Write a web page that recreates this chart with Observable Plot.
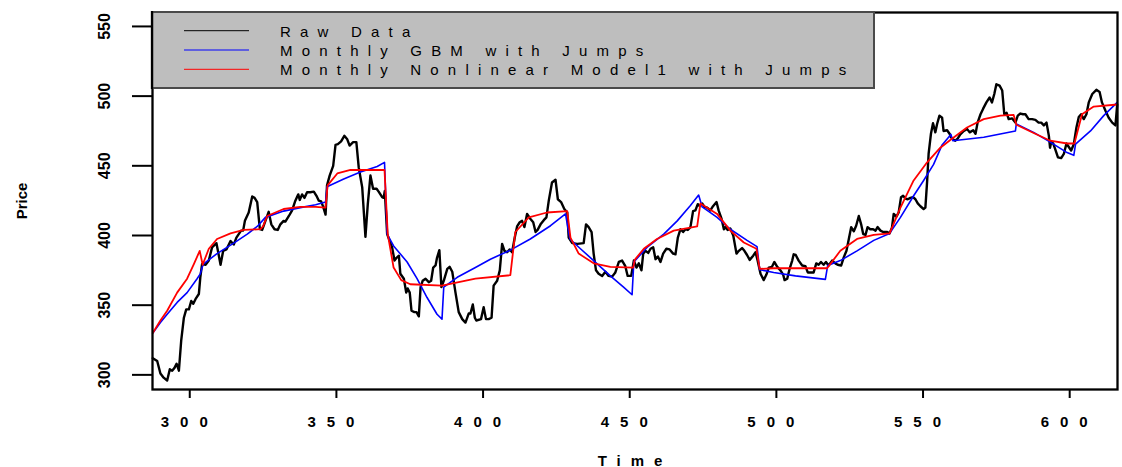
<!DOCTYPE html>
<html>
<head>
<meta charset="utf-8">
<script src="https://cdn.jsdelivr.net/npm/d3@7"></script>
<script src="https://cdn.jsdelivr.net/npm/@observablehq/plot@0.6"></script>
<style>
  html, body { margin: 0; padding: 0; background: #fff; }
  #chart { position: relative; width: 1122px; height: 467px; }
  #chart svg { display: block; }
  .legend text { letter-spacing: 9.2px; }
</style>
</head>
<body>
<div id="chart"></div>
<script>
// ---- data ----
const xTicks = [300, 350, 400, 450, 500, 550, 600];
const yTicks = [300, 350, 400, 450, 500, 550];
const legendLabels = ["Raw Data", "Monthly GBM with Jumps", "Monthly Nonlinear Model1 with Jumps"];
const axisTitles = {x: "Time", y: "Price"};

// [time, price]
const rawSeries = [
[287.4,312],[288.9,310],[290.0,301],[291.1,298],[292.3,296],[293.2,304],[294.0,303],[294.8,305],[295.5,308],[296.3,303],
[297.1,325],[298.0,341],[298.8,347],[299.7,347],[300.5,353],[301.2,351],[302.0,354.5],[303.1,358],[303.6,370],[304.2,379.5],
[305.4,379],[306.5,382],[307.6,391.5],[309.1,394.5],[309.7,388],[310.5,379],[311.4,389],[312.5,390],[313.9,396],[315.0,393.5],
[315.9,398.5],[316.7,401],[317.5,403.5],[318.2,403.5],[318.8,410.5],[320.1,416.5],[321.3,428],[322.1,427],[323.0,424],[323.9,404.5],
[324.7,404],[325.8,410.5],[326.9,417],[327.8,408],[328.9,404.5],[330.0,404],[330.9,408],[332.0,410.5],[332.6,410],[333.8,414],
[334.9,418],[336.0,425],[337.0,429.5],[337.5,425.5],[338.3,429.5],[339.1,427],[340.0,431],[341.1,431],[342.3,431.5],[343.2,428.5],
[344.0,425],[344.8,424.5],[345.5,420.5],[346.3,415],[346.8,436],[347.7,443],[348.9,450],[349.7,465],[350.5,465.5],[351.6,467.5],
[352.7,471.5],[353.7,469],[354.5,464.5],[355.7,467],[356.8,467],[357.6,449],[358.8,434.5],[359.9,399],[360.7,422.5],[361.6,443],
[362.5,433.5],[363.7,433.5],[364.4,431.5],[365.6,427.5],[366.1,427],[366.5,432],[367.3,401],[369.0,391.5],[369.8,382],[370.5,384],
[371.3,385.5],[371.8,372.5],[373.0,369],[373.8,359],[374.3,362],[375.0,359],[375.6,346],[376.6,345],[377.3,345],[378.1,342],
[378.7,363],[379.4,367.5],[380.4,369],[381.5,366.5],[382.3,367.5],[383.0,377],[383.8,378.5],[384.3,384],[385.1,389.5],[385.8,363],
[386.6,367.5],[387.8,376],[388.6,377.5],[389.5,374],[390.6,359],[391.7,345],[392.9,340],[394.0,337.5],[395.1,344],[395.7,344],
[396.5,350.5],[397.2,341],[397.7,339],[399.3,340],[400.2,348.5],[401.0,340],[401.9,340],[402.9,341],[403.6,364],[404.8,367.5],
[405.7,375],[406.5,394],[407.3,389],[408.2,388],[409.1,390],[409.9,388],[410.8,398.5],[411.6,406.5],[412.5,409.5],[413.3,410.5],
[414.1,406],[415.0,415.5],[416.1,412],[417.1,409.5],[417.9,402.5],[418.6,404],[419.6,408],[420.7,411],[421.6,413],[422.4,425],
[423.5,438],[424.7,440],[425.5,426],[426.6,424],[427.7,419],[428.7,416.5],[429.2,398.5],[430.4,394.5],[432.1,394],[434.3,394.5],
[435.1,408],[436.0,406],[437.0,402.5],[437.7,387],[438.5,375],[439.4,372.5],[440.6,371],[441.7,374],[442.8,371],[444.0,370.5],
[445.1,373.5],[446.3,381],[447.4,382],[448.5,378],[449.3,371],[450.5,371],[451.4,382],[452.3,377],[453.1,380],[454.0,375],
[454.6,387],[455.4,389],[456.3,387.5],[457.1,390.5],[458.0,391.5],[458.8,383],[459.6,385],[460.5,381],[461.4,387],[462.5,390.5],
[463.6,390],[464.8,387],[465.6,386.5],[466.4,398.5],[467.3,404.5],[468.2,402.5],[469.0,404.5],[469.8,404],[470.7,406],[471.6,417.5],
[472.4,418],[473.2,422.5],[473.9,421],[474.7,423],[475.5,420.5],[476.4,420],[477.5,418],[478.4,421],[479.6,424],[480.3,418],
[481.3,412],[482.1,404.5],[482.6,406],[483.4,404],[484.3,405],[485.3,400],[486.4,387],[487.2,389],[488.3,391],[489.1,389],
[490.0,386],[490.9,382.5],[492.1,385.5],[492.9,388],[493.6,382],[494.6,372.5],[495.7,368],[496.6,372],[497.4,377],[498.5,377.5],
[499.3,381],[500.3,377.5],[501.4,375],[502.3,372],[502.8,368],[503.7,369],[504.5,376],[505.4,382],[505.9,386.5],[506.6,386],
[507.6,382],[508.8,378.5],[509.9,378],[510.7,373.5],[511.8,373.5],[512.7,373.5],[513.6,380],[514.4,379],[515.2,381],[516.1,379],
[516.9,381],[517.8,378.5],[519.0,382],[520.1,380],[520.9,379],[522.1,378.5],[523.0,384.5],[523.9,389],[524.7,397.5],[525.5,406],
[526.4,403],[527.2,407],[528.1,414],[528.9,408],[529.6,401],[530.4,400.5],[531.1,406],[532.0,404.5],[533.0,404.5],[533.8,403.5],
[534.5,406],[535.5,403.5],[536.4,402.5],[537.8,402.5],[538.6,401.5],[539.4,405.5],[540.0,415.5],[540.9,413.5],[541.7,416.5],[542.5,427.5],
[543.2,428.5],[544.0,426.5],[544.8,426],[545.7,427],[546.6,427.5],[547.4,426],[548.2,423],[549.1,421],[550.2,419],[550.8,420],
[551.4,439],[551.9,458.5],[552.7,473],[553.4,480.5],[554.2,474],[554.8,480],[555.6,486],[556.5,484.5],[557.0,475],[558.2,475.5],
[559.1,472.8],[559.5,470.5],[560.2,469],[561.0,468],[561.8,469.5],[562.7,472.5],[563.9,475],[565.0,476.5],[565.9,474],[567.1,475.5],
[567.9,473],[568.6,481],[569.6,487],[570.5,491],[571.6,495.5],[572.7,499],[573.5,495.5],[574.3,501.5],[575.0,508.5],[576.1,507.5],
[577.0,504],[577.7,487],[578.5,488],[579.2,483.5],[580.4,484],[581.5,481],[582.3,486],[583.2,487.5],[584.1,487],[584.9,487],
[586.0,483.5],[587.2,483.5],[588.3,483],[589.4,481],[590.3,481],[591.2,479],[592.1,481],[592.9,471.5],[593.3,463],[593.7,467],
[594.4,466],[595.2,461],[596.0,456],[597.1,455.5],[598.0,458.5],[598.9,466],[599.7,463.5],[600.5,461],[601.4,465.5],[602.3,477.5],
[603.1,485],[603.9,487],[604.8,483.5],[605.7,487],[606.5,495.5],[607.7,501.5],[609.1,504.5],[610.2,503],[611.0,495.5],[612.2,489.5],
[613.3,484.5],[614.5,481],[615.6,479],[616.2,494]
];

const gbmSeries = [
[287.4,330],[290.0,337.5],[292.3,343.5],[295.7,352],[299.1,359],[302.5,369],[303.6,372.5],[304.6,379.5],[309.3,387],[315.0,394.5],
[319.6,401],[323.0,406.5],[325.8,413],[332.0,417.5],[337.7,420],[342.9,422],[346.3,424],[346.8,435],[352.5,440.5],[358.2,445.5],
[363.9,449.5],[366.4,452.5],[367.3,401],[369.5,392.5],[374.1,381],[377.5,369],[380.9,355.5],[384.3,343.5],[386.0,340],[386.6,363],
[391.2,370],[397.4,377],[402.5,383],[409.3,389.5],[416.1,397.5],[423.0,407],[428.1,415.5],[429.6,397.5],[433.2,390.5],[437.7,382],
[443.4,371],[447.9,363],[450.8,357.5],[451.4,381],[455.9,391.5],[461.6,401],[466.2,410.5],[470.7,421.5],[473.5,429],[474.7,420.5],
[479.8,413],[484.3,404.5],[490.0,396.5],[493.4,392],[494.3,375.5],[499.1,373.5],[506.5,371],[516.7,368.5],[517.5,378.5],[521.8,382],
[527.5,389],[533.2,396.5],[538.6,401.5],[542.3,413],[546.8,428.5],[550.2,439.5],[553.6,451],[556.5,465],[559.5,472.5],[560.2,468],
[570.7,470.5],[581.5,475],[581.8,480],[587.7,474],[593.4,467],[599.1,459.5],[601.4,457.5],[602.0,465.5],[607.1,475],[611.6,486],
[616.2,495.5]
];

const nlSeries = [
[287.4,330],[290.0,339],[292.3,346],[295.7,359],[299.1,369],[301.4,379.5],[303.4,389],[304.4,379],[306.5,390.5],[309.3,397.5],
[313.9,401.5],[318.4,404],[324.1,404.5],[325.0,406.5],[326.4,414],[332.0,419],[337.7,420.5],[342.9,420.5],[346.3,420],[347.0,436],
[350.3,444.5],[354.8,447],[366.4,447],[367.5,401],[369.5,377],[372.1,368],[375.2,365],[386.0,364],[397.4,369],[409.3,371.5],
[411.0,402.5],[415.6,413],[421.8,416.5],[428.7,417.5],[429.8,398.5],[432.6,387],[437.7,380],[443.4,377.5],[451.2,377],[451.7,382.5],
[454.8,390.5],[459.3,397.5],[465.0,403.5],[473.0,406.5],[474.1,423],[479.8,415.5],[484.3,403.5],[488.9,395],[493.2,390.5],[494.3,376],
[499.1,376.5],[517.3,376.5],[521.8,389],[527.5,397.5],[533.2,400.5],[538.6,401.5],[542.3,420],[546.8,439.5],[551.4,452.5],[555.9,463],
[559.3,468.5],[565.0,477.5],[570.7,483.5],[576.4,486],[580.9,486.5],[581.8,479.5],[587.7,473.5],[593.4,468],[599.1,466],[601.6,466],
[604.2,487],[608.2,492.5],[616.2,494]
];

// ---- chart ----
const seriesColors = ["#000000", "#0000ff", "#ff0000"];
const T = d => d[0], V = d => d[1];

const chart = Plot.plot({
  width: 1122,
  height: 467,
  marginLeft: 152,
  marginRight: 5,
  marginTop: 12,
  marginBottom: 78,
  style: {fontFamily: "'Liberation Sans', Arial, Helvetica, sans-serif", fontSize: "15px", color: "#000", background: "#fff"},
  x: {domain: [287.3, 616.3]},
  y: {domain: [289.5, 560]},
  marks: [
    Plot.line(rawSeries, {x: T, y: V, stroke: seriesColors[0], strokeWidth: 2.4}),
    Plot.line(gbmSeries, {x: T, y: V, stroke: seriesColors[1], strokeWidth: 1.6}),
    Plot.line(nlSeries, {x: T, y: V, stroke: seriesColors[2], strokeWidth: 1.8}),
    Plot.frame({stroke: "#000", strokeWidth: 2.3}),
    Plot.axisX(xTicks, {tickSize: 9, tickPadding: 18, strokeWidth: 2, label: null, fontSize: 15, fontWeight: "bold"}),
    Plot.axisY(yTicks, {tickSize: 20, tickPadding: 23, tickRotate: -90, textAnchor: "middle", lineAnchor: "bottom", strokeWidth: 2, label: null, fontSize: 16, fontWeight: "bold"}),
    Plot.text([axisTitles.y], {frameAnchor: "left", dx: -126, rotate: -90, textAnchor: "middle", lineAnchor: "bottom", fontSize: 15, fontWeight: "bold"}),
    Plot.text([axisTitles.x], {frameAnchor: "bottom", dy: 76, textAnchor: "middle", lineAnchor: "bottom", fontSize: 15, fontWeight: "bold"})
  ]
});

const wrap = document.getElementById("chart");
wrap.appendChild(chart);

// letter-spaced labels, as in the reference rendering
d3.select(chart).selectAll('g[aria-label="x-axis tick label"] text').style("letter-spacing", "11px");
d3.select(chart).selectAll("text").filter(function () { return this.textContent === axisTitles.x; })
  .style("letter-spacing", "10px");

// ---- legend (overlay, top-left inside the plot frame) ----
const leg = d3.select(wrap).append("svg")
  .attr("class", "legend")
  .attr("width", 1122).attr("height", 100)
  .style("position", "absolute").style("left", "0px").style("top", "0px")
  .style("font-family", "'Liberation Sans', Arial, Helvetica, sans-serif")
  .style("font-size", "15px");
leg.append("rect").attr("x", 153.2).attr("y", 12).attr("width", 720.8).attr("height", 76).attr("fill", "#bebebe");
leg.append("path").attr("d", "M151,12H874V88H151").attr("fill", "none").attr("stroke", "#4a4a4a").attr("stroke-width", 2);
leg.append("line").attr("x1", 152).attr("x2", 152).attr("y1", 11).attr("y2", 89).attr("stroke", "#000").attr("stroke-width", 2.3);
legendLabels.forEach((lab, i) => {
  const y = 30.7 + i * 19.3;
  leg.append("line").attr("x1", 184).attr("x2", 249).attr("y1", y).attr("y2", y)
    .attr("stroke", seriesColors[i]).attr("stroke-width", 1);
  leg.append("text").attr("x", 280).attr("y", y + 6).attr("fill", "#000").text(lab);
});
</script>
</body>
</html>
